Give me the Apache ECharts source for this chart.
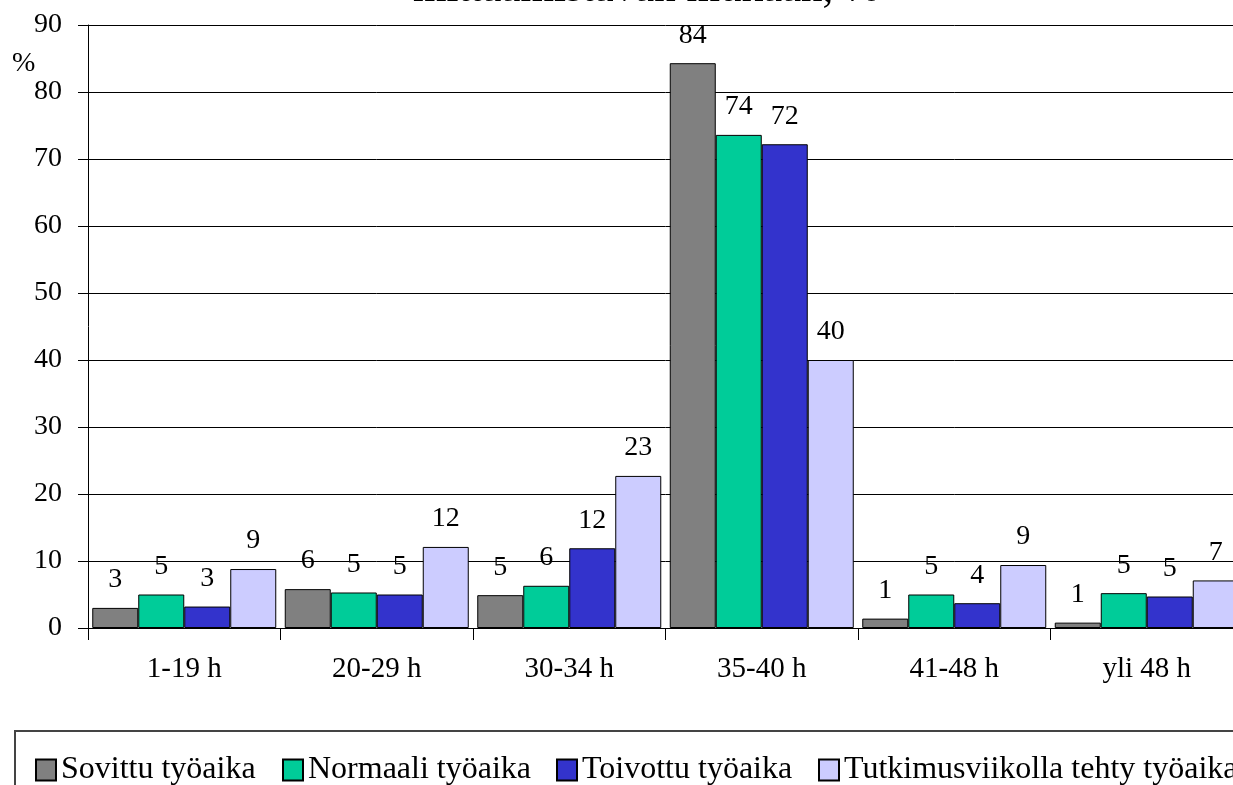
<!DOCTYPE html>
<html>
<head>
<meta charset="utf-8">
<script src="https://cdn.jsdelivr.net/npm/echarts@6/dist/echarts.min.js"></script>
<style>
  html, body { margin: 0; padding: 0; background: #fff; overflow: hidden; }
  #chart { width: 1260px; height: 785px; }
</style>
</head>
<body>
<div id="chart"></div>
<script>
// 类别与数据
var categories = ['1-19 h', '20-29 h', '30-34 h', '35-40 h', '41-48 h', 'yli 48 h'];
var seriesNames = ['Sovittu työaika', 'Normaali työaika', 'Toivottu työaika', 'Tutkimusviikolla tehty työaika'];
var sovittu = [3.0, 5.8, 4.9, 84.3, 1.4, 0.8];
var normaali = [5.0, 5.3, 6.3, 73.6, 5.0, 5.2];
var toivottu = [3.2, 5.0, 11.9, 72.2, 3.7, 4.7];
var tutkimus = [8.8, 12.1, 22.7, 40.0, 9.4, 7.1];
var colors = ['#808080', '#00CC99', '#3333CC', '#CCCCFF'];

var font = 'Liberation Serif';
var chart = echarts.init(document.getElementById('chart'));

function makeSeries(name, data, color) {
	return {
		name: name,
		type: 'bar',
		data: data,
		barWidth: 46,
		barGap: '0%',
		itemStyle: { color: color, borderColor: '#000', borderWidth: 1 },
		label: {
			show: true,
			position: 'top',
			distance: 14,
			fontFamily: font,
			fontSize: 28,
			color: '#000',
			formatter: function (p) { return Math.round(p.value); }
		}
	};
}

// 每个图例单独定位，最后一项超出画面
var legendLefts = [30, 277, 551, 813];
var legends = seriesNames.map(function (name, i) {
	return {
		left: legendLefts[i],
		top: 749,
		itemWidth: 20,
		itemHeight: 21,
		icon: 'rect',
		textStyle: { fontFamily: font, fontSize: 32, color: '#000' },
		data: [name]
	};
});

chart.setOption({
	animation: false,
	title: {
		text: 'mittaamistavan mukaan, %',
		left: 408,
		top: -37,
		textStyle: { fontFamily: font, fontSize: 43, fontWeight: 'normal', color: '#000' }
	},
	legend: legends,
	grid: { left: 88, right: 17, top: 25, bottom: 157 },
	xAxis: {
		type: 'category',
		data: categories,
		axisLine: { lineStyle: { color: '#000', width: 1 } },
		axisTick: { show: true, length: 12, lineStyle: { color: '#000' } },
		axisLabel: { fontFamily: font, fontSize: 29, color: '#000', margin: 27 }
	},
	yAxis: {
		type: 'value',
		min: 0,
		max: 90,
		interval: 10,
		axisLine: { show: true, lineStyle: { color: '#000', width: 1 } },
		axisTick: { show: true, length: 10, lineStyle: { color: '#000' } },
		axisLabel: { fontFamily: font, fontSize: 28, color: '#000', margin: 26 },
		splitLine: { show: true, lineStyle: { color: '#000', width: 1 } }
	},
	graphic: [
		{ type: 'text', left: 12, top: 50, style: { text: '%', fontFamily: font, fontSize: 28, fill: '#000' } },
		{ type: 'rect', shape: { x: 15, y: 731, width: 1300, height: 100 }, style: { fill: 'none', stroke: '#444', lineWidth: 2 } }
	],
	series: [
		makeSeries(seriesNames[0], sovittu, colors[0]),
		makeSeries(seriesNames[1], normaali, colors[1]),
		makeSeries(seriesNames[2], toivottu, colors[2]),
		makeSeries(seriesNames[3], tutkimus, colors[3])
	]
});
</script>
</body>
</html>
